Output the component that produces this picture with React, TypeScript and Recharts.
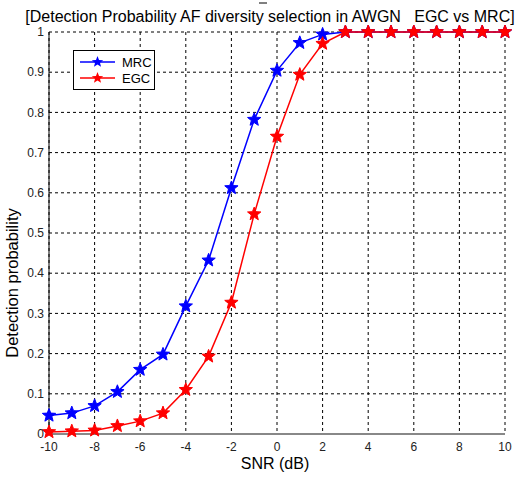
import React from 'react';
import { LineChart, Line, XAxis, YAxis, CartesianGrid } from 'recharts';

const snr = [-10, -9, -8, -7, -6, -5, -4, -3, -2, -1, 0, 1, 2, 3, 4, 5, 6, 7, 8, 9, 10];
const mrc = [0.046, 0.052, 0.07, 0.105, 0.16, 0.198, 0.318, 0.432, 0.612, 0.782, 0.904, 0.973, 0.994, 1, 1, 1, 1, 1, 1, 1, 1];
const egc = [0.005, 0.007, 0.009, 0.02, 0.032, 0.052, 0.11, 0.193, 0.327, 0.547, 0.74, 0.894, 0.971, 1, 1, 1, 1, 1, 1, 1, 1];
const xTicks = [-10, -8, -6, -4, -2, 0, 2, 4, 6, 8, 10];
const yTicks = [0, 0.1, 0.2, 0.3, 0.4, 0.5, 0.6, 0.7, 0.8, 0.9, 1];

const data = snr.map((s, i) => ({ snr: s, MRC: mrc[i], EGC: egc[i] }));

const FONT = '"Liberation Sans", Arial, sans-serif';

function starPoints(cx: number, cy: number, R: number, r: number) {
  const pts: string[] = [];
  for (let k = 0; k < 10; k++) {
    const rad = k % 2 === 0 ? R : r;
    const a = -Math.PI / 2 + (k * Math.PI) / 5;
    pts.push(`${cx + rad * Math.cos(a)},${cy + rad * Math.sin(a)}`);
  }
  return pts.join(' ');
}

const makeStar = (color: string) => (props: any) => {
  const { cx, cy, index } = props;
  if (cx == null || cy == null) return <g key={index} />;
  return (
    <polygon
      key={index}
      points={starPoints(cx, cy, 7, 3)}
      fill={color}
      stroke={color}
      strokeWidth={1}
      strokeLinejoin="miter"
    />
  );
};

export default function App() {
  return (
    <div style={{ position: 'absolute', left: 0, top: 0, width: 529, height: 477, background: '#fff' }}>
      <LineChart
        width={529}
        height={477}
        data={data}
        margin={{ top: 32, right: 24, bottom: 13, left: 0 }}
        style={{ fontFamily: FONT }}
      >
        <line x1={259} y1={3} x2={267} y2={3} stroke="#000" strokeWidth={1} />
        <text
          x={270}
          y={22}
          fontSize={16}
          fontFamily={FONT}
          textAnchor="middle"
          fill="#000"
          style={{ whiteSpace: 'pre' }}
          xmlSpace="preserve"
        >
          {'[Detection Probability AF diversity selection in AWGN   EGC vs MRC]'}
        </text>
        <CartesianGrid stroke="#000" strokeDasharray="3 3" strokeWidth={1} />
        <XAxis
          dataKey="snr"
          type="number"
          domain={[-10, 10]}
          ticks={xTicks}
          height={30}
          tickLine={false}
          tickSize={0}
          tickMargin={8}
          axisLine={{ stroke: '#888', strokeWidth: 2 }}
          tick={{ fontSize: 12, fill: '#222', fontFamily: FONT }}
          interval={0}
        />
        <YAxis
          type="number"
          domain={[0, 1]}
          ticks={yTicks}
          width={49}
          tickLine={false}
          tickSize={0}
          tickMargin={5}
          axisLine={{ stroke: '#000', strokeWidth: 1 }}
          tick={{ fontSize: 12, fill: '#222', fontFamily: FONT }}
          tickFormatter={(v: number) => String(Math.round(v * 10) / 10)}
          interval={0}
        />
        <text x={275} y={469} fontSize={16} fontFamily={FONT} textAnchor="middle" fill="#000">
          SNR (dB)
        </text>
        <text
          x={14}
          y={283}
          fontSize={16.5}
          fontFamily={FONT}
          textAnchor="middle"
          fill="#000"
          transform="rotate(-90 14 283)"
          dominantBaseline="middle"
        >
          Detection probability
        </text>
        <Line
          type="linear"
          dataKey="MRC"
          stroke="#0000ff"
          strokeWidth={1.5}
          dot={makeStar('#0000ff')}
          activeDot={false}
          isAnimationActive={false}
        />
        <Line
          type="linear"
          dataKey="EGC"
          stroke="#ff0000"
          strokeWidth={1.5}
          dot={makeStar('#ff0000')}
          activeDot={false}
          isAnimationActive={false}
        />
        <g transform="translate(73,50)">
          <rect x={0.5} y={0.5} width={81} height={39} fill="#fff" stroke="#000" strokeWidth={1} />
          <line x1={7} y1={12} x2={42} y2={12} stroke="#0000ff" strokeWidth={1.5} />
          <polygon points={starPoints(24.5, 12, 6, 2.6)} fill="#0000ff" />
          <text x={49} y={16.5} fontSize={13} fontFamily={FONT} fill="#000">MRC</text>
          <line x1={7} y1={28} x2={42} y2={28} stroke="#ff0000" strokeWidth={1.5} />
          <polygon points={starPoints(24.5, 28, 6, 2.6)} fill="#ff0000" />
          <text x={49} y={32.5} fontSize={13} fontFamily={FONT} fill="#000">EGC</text>
        </g>
      </LineChart>
    </div>
  );
}
